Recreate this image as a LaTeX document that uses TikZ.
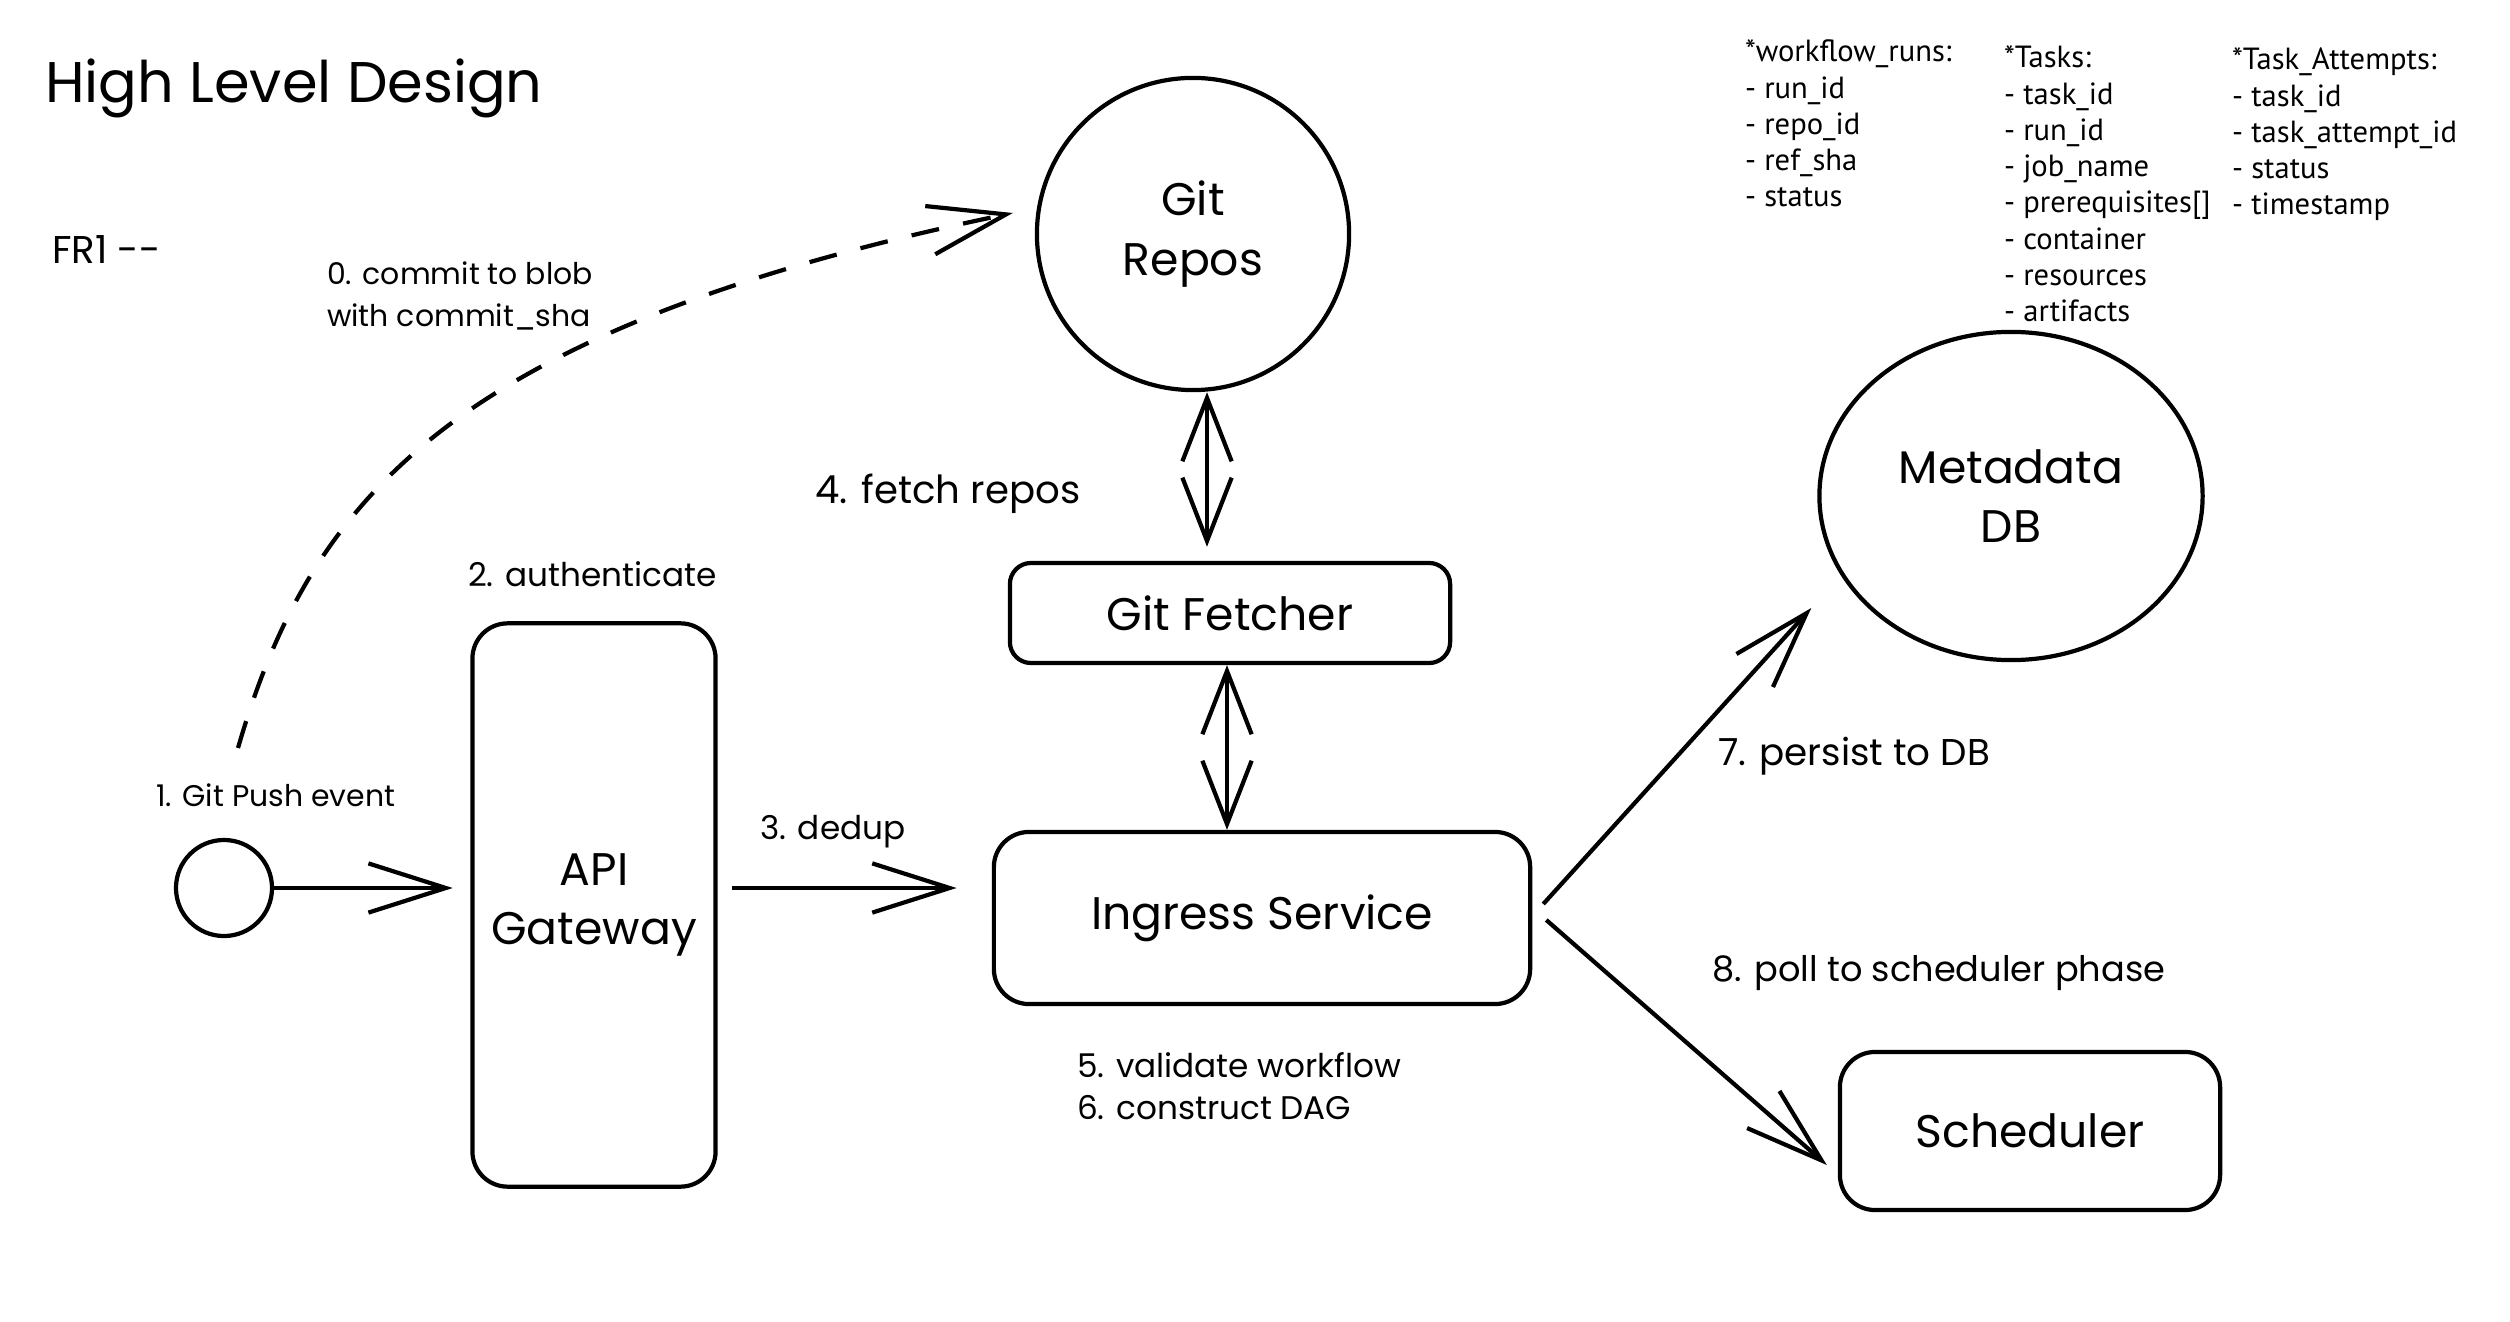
\documentclass[tikz,border=0pt]{standalone}
\usepackage{fontspec}
\setmainfont{Poppins}
\newfontfamily\tablefont{PT Sans}
\usetikzlibrary{positioning, arrows.meta, shapes.geometric}

\begin{document}
\begin{tikzpicture}[
		x=0.01cm, y=-0.01cm,
		line width=1.2pt,
		box/.style={draw, rounded corners=10pt, align=center, font=\fontsize{13}{17}\selectfont},
		disk/.style={draw, circle, align=center, font=\fontsize{13}{17}\selectfont},
		note/.style={anchor=west, inner sep=0pt, align=left, font=\fontsize{8.5}{12}\selectfont},
		midnote/.style={note, font=\fontsize{9.3}{12}\selectfont},
		bignote/.style={note, font=\fontsize{11}{13}\selectfont},
		schema/.style={anchor=north west, inner sep=0pt, align=left, font=\tablefont\fontsize{8.7}{10.3}\selectfont},
		flow/.style={-{Straight Barb[length=22pt, width=14pt, line width=1.2pt]}},
		both/.style={{Straight Barb[length=18pt, width=14pt, line width=1.2pt]}-{Straight Barb[length=18pt, width=14pt, line width=1.2pt]}},
	]
		\useasboundingbox (0,0) rectangle (2510,1322);

		\node (title) [anchor=west, inner sep=0pt, font=\fontsize{16.3}{20}\selectfont] at (43,88) {High Level Design};
		\node (fr) [note, font=\fontsize{11}{13}\selectfont] at (50,250) {FR1 {-}{-}};

		\node (repos) [disk, minimum size=3.12cm] at (1193,234) {Git\\Repos};
		\node (fetcher) [box, rounded corners=6pt, minimum width=4.40cm, minimum height=1cm] at (1230,613) {Git Fetcher};
		\node (ingress) [box, minimum width=5.36cm, minimum height=1.72cm] at (1262,918) {Ingress Service};
		\node (api) [box, minimum width=2.43cm, minimum height=5.63cm] at (594,905) {API\\Gateway};
		\node (push) [draw, circle, minimum size=0.96cm] at (224,888) {};
		\node (db) [draw, ellipse, align=center, minimum width=3.83cm, minimum height=3.28cm, font=\fontsize{13}{17}\selectfont] at (2011,496) {Metadata\\DB};
		\node (sched) [box, minimum width=3.8cm, minimum height=1.58cm] at (2030,1131) {Scheduler};

		\node (commit) [note] at (325,296) {0. commit to blob\\with commit\_sha};
		\node (pushlbl) [note] at (154,795) {1. Git Push event};
		\node (auth) [midnote] at (466,574) {2. authenticate};
		\node (dedup) [midnote] at (758,832) {3. dedup};
		\node (fetch) [bignote] at (813,494) {4. fetch repos};
		\node (checks) [midnote] at (1075,1086) {5. validate workflow\\6. construct DAG};
		\node (persist) [bignote, font=\fontsize{10.6}{13}\selectfont] at (1716,756) {7. persist to DB};
		\node (poll) [bignote, font=\fontsize{10}{13}\selectfont] at (1710,973) {8. poll to scheduler phase};

		% tables
		\node (runs) [schema] at (1743,38) {*workflow\_runs:\\- run\_id\\- repo\_id\\- ref\_sha\\- status};
		\node (tasks) [schema] at (2002,44) {*Tasks:\\- task\_id\\- run\_id\\- job\_name\\- prerequisites[]\\- container\\- resources\\- artifacts};
		\node (attempts) [schema] at (2230,46) {*Task\_Attempts:\\- task\_id\\- task\_attempt\_id\\- status\\- timestamp};

		\coordinate (dashstart) at (238,748);
		\coordinate (dashend) at ([shift={(-22,-21)}]repos.west);
		\draw [flow, dash pattern=on 8pt off 7pt] (dashstart) .. controls (310,500) and (450,330) .. (dashend);

		\draw [flow, shorten >=5pt] (push) -- (push -| api.west);
		\draw [flow, shorten <=4pt, shorten >=10pt] (push -| api.east) -- (push -| ingress.west);
		\draw [both, shorten >=4pt] ([shift={(14,0)}]repos.south) -- ([shift={(14,0)}]repos.south |- fetcher.north);
		\draw [both] ([shift={(-3,0)}]fetcher.south) -- ([shift={(-3,0)}]fetcher.south |- ingress.north);
		\draw [flow] ([shift={(11,-14)}]ingress.east) -- ([shift={(-6,112)}]db.west);
		\draw [flow] ([shift={(14,2)}]ingress.east) -- ([shift={(-11,34)}]sched.west);
	\end{tikzpicture}
\end{document}
